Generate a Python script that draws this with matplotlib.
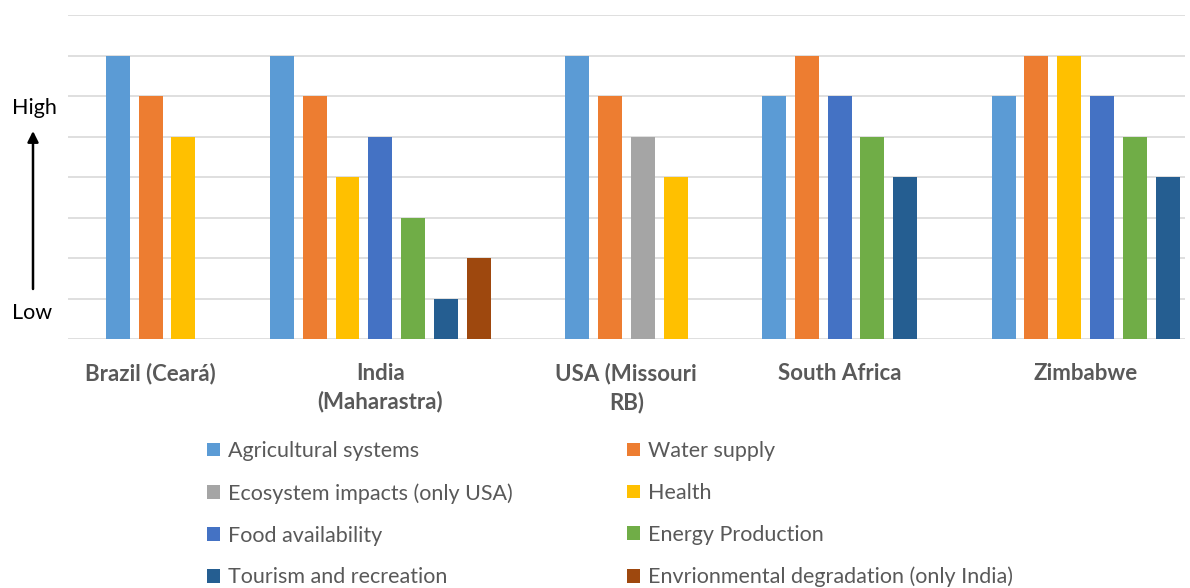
import matplotlib.pyplot as plt
from matplotlib.patches import Patch

countries = ["Brazil (Ceará)", "India\n(Maharastra)", "USA (Missouri\nRB)",
             "South Africa", "Zimbabwe"]
series = ["Agricultural systems", "Water supply", "Ecosystem impacts (only USA)",
          "Health", "Food availability", "Energy Production",
          "Tourism and recreation", "Envrionmental degradation (only India)"]

# impact level per country (None = not assessed)
agri = [7, 7, 7, 6, 6]
water = [6, 6, 6, 7, 7]
ecosystem = [None, None, 5, None, None]
health = [5, 4, 4, None, 7]
food = [None, 5, None, 6, 6]
energy = [None, 3, None, 5, 5]
tourism = [None, 1, None, 4, 4]
env_degradation = [None, 2, None, None, None]

values = [agri, water, ecosystem, health, food, energy, tourism, env_degradation]
colors = ["#5B9BD5", "#ED7D31", "#A5A5A5", "#FFC000",
          "#4472C4", "#70AD47", "#255E91", "#9E480E"]

# first bar slot of each country group (layout only)
group_start = [0, 5, 14, 20, 27]

plt.rcParams["font.family"] = ["Lato", "DejaVu Sans"]

W, H = 1190, 588
fig = plt.figure(figsize=(W / 100, H / 100), dpi=100)
ax = fig.add_axes([68 / W, 249 / H, (1185 - 68) / W, 324 / H])

centers = []
for i, start in enumerate(group_start):
    slot = start
    xs = []
    for j, vals in enumerate(values):
        v = vals[i]
        if v is None:
            continue
        ax.bar(slot, v, width=0.73, color=colors[j], zorder=3)
        xs.append(slot)
        slot += 1
    centers.append((xs[0] + xs[-1]) / 2)

ax.set_xlim(-1.52, 32.53)
ax.set_ylim(0, 8)
ax.set_yticks(range(9))
ax.set_yticklabels([])
ax.yaxis.grid(True, color="#D9D9D9", lw=1.2, zorder=0)
ax.tick_params(axis="y", length=0)
for s in ax.spines.values():
    s.set_visible(False)

ax.set_xticks(centers)
ax.set_xticklabels(countries, fontsize=16, fontweight="bold", color="#595959",
                   linespacing=1.4)
ax.tick_params(axis="x", length=0, pad=17)

# High / Low axis annotation
fig.text(34 / W, (H - 108) / H, "High", ha="center", va="center", fontsize=15.5)
fig.text(32 / W, (H - 313) / H, "Low", ha="center", va="center", fontsize=15.5)
ax.annotate("", xy=(33, H - 131), xytext=(33, H - 289),
            xycoords="figure pixels", textcoords="figure pixels",
            arrowprops=dict(arrowstyle="-|>", lw=1.8, color="black",
                            mutation_scale=16, shrinkA=0, shrinkB=0),
            annotation_clip=False)

# legend: two columns, each anchored at its own x position
legend_cols = [([0, 2, 4, 6], 207), ([1, 3, 5, 7], 627)]
for idx, x0 in legend_cols:
    fig.legend([Patch(facecolor=colors[k]) for k in idx],
               [series[k] for k in idx], loc="upper left",
               bbox_to_anchor=(x0 / W, (H - 441) / H), frameon=False,
               fontsize=15.5, labelcolor="#595959", borderpad=0,
               borderaxespad=0, handlelength=0.6, handleheight=0.6,
               handletextpad=0.37, labelspacing=1.02)

fig.savefig("out.png", dpi=100)
